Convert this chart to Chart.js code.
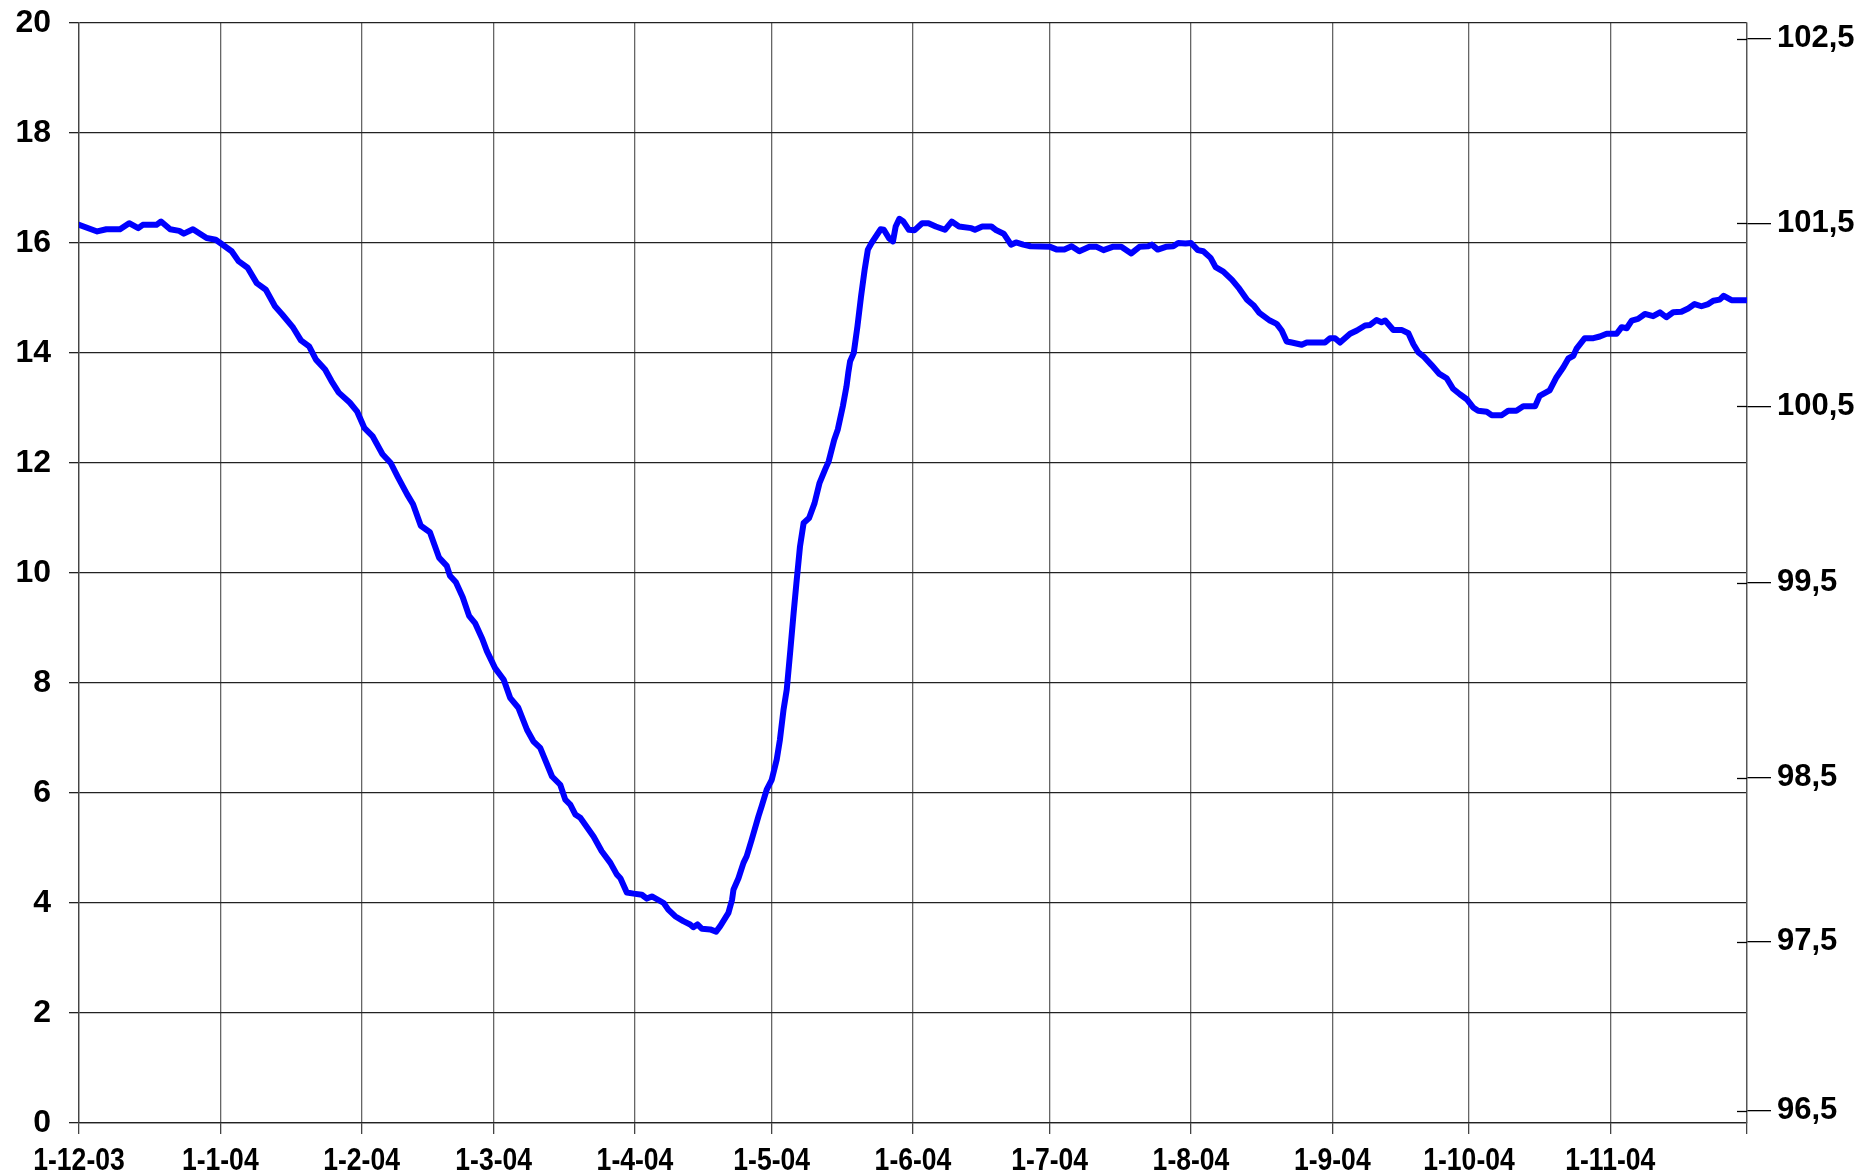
<!DOCTYPE html>
<html>
<head>
<meta charset="utf-8">
<title>Chart</title>
<script src="https://cdn.jsdelivr.net/npm/chart.js@4.4.1/dist/chart.umd.min.js"></script>
<style>
  html, body { margin: 0; padding: 0; background: #fff; }
  #wrap { width: 1864px; height: 1175px; position: relative; }
</style>
</head>
<body>
<div id="wrap"><canvas id="chart"></canvas></div>
<script>
// day number counted from 1-12-03
var days = [
    0, 4, 6, 9, 11, 13, 14, 17, 18, 20, 22, 23, 25, 28, 30, 31, 33.5, 35, 37, 39,
    41, 43, 44.6, 47, 48.7, 50.5, 52, 54, 55.4, 57, 59.4, 61, 62.6, 64.4, 66.6, 68.4, 70, 72, 73.3, 75,
    77, 79, 80.7, 81.4, 82.7, 84.2, 85.6, 86.9, 88.5, 89.5, 91.3, 93.2, 94.6, 96.4, 98.3, 99.7, 101.2, 103.8, 105.6, 106.7,
    107.8, 108.9, 110, 112.9, 114.7, 116.6, 118, 118.8, 120.2, 121.7, 123.5, 124.6, 125.7, 128.3, 129.3, 130.8, 132.6, 134.1, 134.8, 135.7,
    136.7, 138.5, 139.8, 140.7, 142.5, 143.3, 143.6, 144.7, 145.8, 146.5, 147.6, 149.1, 149.8, 150.9, 152, 153.1, 153.8, 154.6, 155.3, 156.1,
    156.8, 157.4, 158.2, 159, 160.2, 161.4, 162.5, 163.7, 164.5, 165.7, 166.5, 167.6, 168.4, 168.8, 169.2, 170, 170.8, 171.6, 172.4, 173.1,
    173.9, 175.1, 175.9, 176.6, 177.7, 178.6, 179.2, 180, 180.9, 182.1, 183.3, 185, 186.4, 188, 190, 191.5, 193.1, 195.8, 196.6, 198.2,
    200.2, 201.3, 202.9, 204.5, 205.6, 207.2, 208.8, 213.1, 214.6, 216.2, 217.8, 219.5, 221.7, 223.3, 224.8, 226.8, 228.7, 230.9, 232.7, 234.6,
    235.4, 236.7, 238.5, 240.1, 241.2, 242.8, 244, 245.5, 246.7, 248.3, 249.4, 251.1, 253, 254.6, 256.3, 257.7, 259, 261.3, 262.8, 263.9,
    265, 266.1, 268.3, 269.4, 273.4, 274.5, 275.6, 276.7, 278.9, 280.4, 282.2, 283.3, 284.7, 285.8, 286.6, 288.4, 290.2, 291.7, 292.8, 293.9,
    295, 296.8, 298.5, 300.1, 301.5, 303, 304.5, 305.9, 307, 308.9, 310, 312.2, 313.6, 315.4, 316.9, 319.5, 320.5, 322.7, 324.2, 325.7,
    326.8, 327.9, 328.6, 330.4, 332.3, 333.7, 335.2, 337.4, 338.5, 339.6, 340.7, 342.1, 343.6, 345.4, 346.9, 348.3, 349.8, 351.6, 353.1, 354.5,
    356, 357.5, 358.6, 360, 360.9, 362.6, 366
];
var values = [
    16.33, 16.21, 16.25, 16.25, 16.36, 16.27, 16.33, 16.33, 16.39, 16.25, 16.22, 16.17, 16.25, 16.09, 16.06, 16.0, 15.85, 15.67, 15.55, 15.27,
    15.15, 14.85, 14.70, 14.46, 14.23, 14.12, 13.88, 13.70, 13.49, 13.28, 13.10, 12.94, 12.64, 12.49, 12.16, 12.0, 11.74, 11.43, 11.25, 10.86,
    10.74, 10.28, 10.13, 9.95, 9.83, 9.56, 9.22, 9.09, 8.80, 8.58, 8.27, 8.06, 7.73, 7.55, 7.15, 6.94, 6.82, 6.30, 6.15, 5.88,
    5.79, 5.61, 5.55, 5.21, 4.94, 4.73, 4.52, 4.45, 4.19, 4.17, 4.15, 4.08, 4.12, 4.0, 3.88, 3.76, 3.67, 3.61, 3.56, 3.61,
    3.53, 3.52, 3.48, 3.58, 3.82, 4.06, 4.24, 4.45, 4.73, 4.85, 5.15, 5.58, 5.76, 6.06, 6.24, 6.61, 6.97, 7.52, 7.88, 8.61,
    9.27, 9.80, 10.48, 10.91, 11.0, 11.27, 11.64, 11.88, 12.03, 12.42, 12.61, 13.03, 13.39, 13.64, 13.85, 14.0, 14.48, 15.03, 15.52, 15.88,
    16.0, 16.15, 16.25, 16.24, 16.09, 16.03, 16.30, 16.44, 16.39, 16.24, 16.23, 16.36, 16.36, 16.30, 16.24, 16.39, 16.30, 16.27, 16.24, 16.30,
    16.30, 16.23, 16.17, 15.97, 16.01, 15.97, 15.94, 15.93, 15.88, 15.88, 15.94, 15.85, 15.93, 15.93, 15.87, 15.93, 15.93, 15.81, 15.93, 15.94,
    15.97, 15.88, 15.93, 15.94, 16.0, 15.99, 16.0, 15.87, 15.85, 15.73, 15.56, 15.48, 15.33, 15.17, 14.97, 14.87, 14.73, 14.59, 14.53, 14.41,
    14.21, 14.19, 14.15, 14.19, 14.19, 14.27, 14.27, 14.19, 14.35, 14.41, 14.50, 14.51, 14.60, 14.56, 14.59, 14.42, 14.42, 14.36, 14.16, 14.01,
    13.94, 13.78, 13.62, 13.54, 13.35, 13.25, 13.16, 13.01, 12.95, 12.93, 12.87, 12.87, 12.95, 12.95, 13.03, 13.03, 13.22, 13.32, 13.56, 13.74,
    13.90, 13.95, 14.08, 14.27, 14.27, 14.30, 14.35, 14.35, 14.47, 14.45, 14.59, 14.62, 14.71, 14.67, 14.74, 14.65, 14.74, 14.75, 14.81, 14.89,
    14.85, 14.89, 14.95, 14.97, 15.04, 14.96, 14.96
];

// x axis: month starts (days) and their labels
var monthDays = [0, 31, 62, 91, 122, 152, 183, 213, 244, 275, 305, 336, 366];
var monthLabels = ['1-12-03', '1-1-04', '1-2-04', '1-3-04', '1-4-04', '1-5-04', '1-6-04',
                   '1-7-04', '1-8-04', '1-9-04', '1-10-04', '1-11-04', ''];

// right axis: labels and where they sit on the left (0-20) scale
var rightTickPos = [0.22, 3.30, 6.28, 9.82, 13.03, 16.36, 19.71];
var rightTickLabels = ['96,5', '97,5', '98,5', '99,5', '100,5', '101,5', '102,5'];

var points = days.map(function (d, i) { return { x: d, y: values[i] }; });

// short tick stubs on the inner side of the right axis
var rightStubs = {
    id: 'rightStubs',
    afterDraw: function (chart) {
        var sc = chart.scales.y2;
        var ctx = chart.ctx;
        ctx.save();
        ctx.strokeStyle = '#000';
        ctx.lineWidth = 1.3;
        rightTickPos.forEach(function (v) {
            var y = Math.round(sc.getPixelForValue(v)) + 0.5;
            ctx.beginPath();
            ctx.moveTo(sc.left - 10, y);
            ctx.lineTo(sc.left, y);
            ctx.stroke();
        });
        ctx.restore();
    }
};

// date labels under the x axis, in a narrow bold face
var narrowDateLabels = {
    id: 'narrowDateLabels',
    afterDraw: function (chart) {
        var sc = chart.scales.x;
        var ctx = chart.ctx;
        var squeeze = 0.83;
        ctx.save();
        ctx.fillStyle = '#000';
        ctx.font = 'bold 32px "Liberation Sans", Arial, sans-serif';
        ctx.textAlign = 'center';
        ctx.textBaseline = 'middle';
        monthDays.forEach(function (d, i) {
            var x = sc.getPixelForValue(d);
            ctx.save();
            ctx.translate(x, sc.top + 38.5);
            ctx.scale(squeeze, 1);
            ctx.fillText(monthLabels[i], 0, 0);
            ctx.restore();
        });
        ctx.restore();
    }
};

// keep the plot box where the reference has it
function fixWidth(w) {
    return function (scale) {
        scale.width = w;
        scale.paddingTop = 0;
        scale.paddingBottom = 0;
    };
}

var ctx = document.getElementById('chart');
new Chart(ctx, {
    type: 'line',
    data: {
        datasets: [{
            data: points,
            borderColor: '#0000FF',
            borderWidth: 6,
            pointRadius: 0,
            tension: 0,
            borderJoinStyle: 'round',
            borderCapStyle: 'round',
            fill: false
        }]
    },
    options: {
        responsive: true,
        maintainAspectRatio: false,
        animation: false,
        layout: { padding: { top: 23, left: 0, right: 0, bottom: 0 } },
        plugins: { legend: { display: false }, tooltip: { enabled: false } },
        scales: {
            x: {
                type: 'linear',
                min: 0,
                max: 366,
                afterBuildTicks: function (scale) {
                    scale.ticks = monthDays.map(function (d) { return { value: d }; });
                },
                afterFit: function (scale) { scale.height = 52; },
                grid: { color: '#666', lineWidth: 1.3, tickLength: 11, tickColor: '#444' },
                border: { display: true, color: '#222', width: 1.3 },
                ticks: { display: false }
            },
            y: {
                position: 'left',
                min: 0,
                max: 20,
                afterFit: fixWidth(79),
                grid: { color: '#222', lineWidth: 1.3, tickLength: 10, tickColor: '#222' },
                border: { display: true, color: '#444', width: 1.3 },
                ticks: {
                    stepSize: 2,
                    padding: 18,
                    color: '#000',
                    font: { family: '"Liberation Sans", Arial', size: 32, weight: 'bold' }
                }
            },
            y2: {
                position: 'right',
                min: 0,
                max: 20,
                afterBuildTicks: function (scale) {
                    scale.ticks = rightTickPos.map(function (v) { return { value: v }; });
                },
                afterFit: fixWidth(117),
                grid: { drawOnChartArea: false, tickLength: 24, tickColor: '#000', lineWidth: 1.3 },
                border: { display: true, color: '#555', width: 1.3 },
                ticks: {
                    autoSkip: false,
                    padding: 6,
                    color: '#000',
                    font: { family: '"Liberation Sans", Arial', size: 31, weight: 'bold' },
                    callback: function (v, i) { return rightTickLabels[i]; }
                }
            }
        }
    },
    plugins: [rightStubs, narrowDateLabels]
});
</script>
</body>
</html>
